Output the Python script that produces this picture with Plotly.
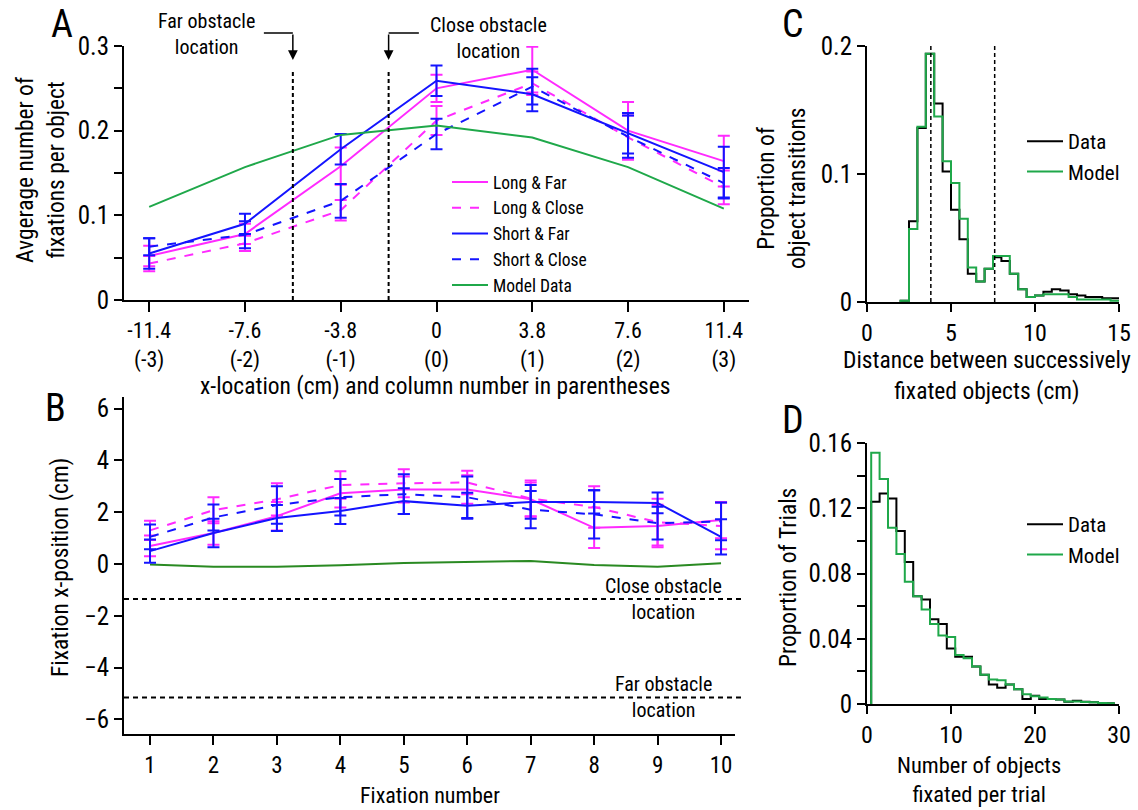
import plotly.graph_objects as go

W, H = 1138, 810
FONT = "Liberation Sans Narrow, Arial Narrow, Roboto Condensed, Liberation Sans, Arial, sans-serif"

# ---------------- Panel A data ----------------
a_x = [-11.4, -7.6, -3.8, 0, 3.8, 7.6, 11.4]
a_ticktext = ["-11.4<br>(-3)", "-7.6<br>(-2)", "-3.8<br>(-1)", "0<br>(0)", "3.8<br>(1)", "7.6<br>(2)", "11.4<br>(3)"]
a_long_far = [0.052, 0.078, 0.158, 0.250, 0.272, 0.200, 0.164]
a_long_far_err = [0.012, 0.012, 0.022, 0.016, 0.027, 0.034, 0.030]
a_long_close = [0.043, 0.067, 0.106, 0.212, 0.256, 0.192, 0.133]
a_long_close_err = [0.009, 0.009, 0.012, 0.017, 0.014, 0.026, 0.020]
a_short_far = [0.055, 0.090, 0.178, 0.259, 0.243, 0.197, 0.151]
a_short_far_err = [0.018, 0.012, 0.018, 0.018, 0.020, 0.024, 0.030]
a_short_close = [0.063, 0.077, 0.117, 0.196, 0.252, 0.193, 0.138]
a_short_close_err = [0.010, 0.016, 0.020, 0.018, 0.021, 0.025, 0.018]
a_model = [0.110, 0.157, 0.195, 0.206, 0.192, 0.157, 0.108]
a_far_obstacle = -5.7
a_close_obstacle = -1.9

# ---------------- Panel B data ----------------
b_x = [1, 2, 3, 4, 5, 6, 7, 8, 9, 10]
b_long_far = [0.70, 1.20, 1.85, 2.73, 2.88, 2.88, 2.50, 1.40, 1.47, 1.70]
b_long_far_err = [0.40, 0.45, 0.55, 0.55, 0.50, 0.55, 0.65, 0.78, 0.82, 0.70]
b_long_close = [1.30, 2.08, 2.50, 3.05, 3.12, 3.15, 2.53, 2.20, 1.62, 1.47]
b_long_close_err = [0.37, 0.50, 0.62, 0.53, 0.54, 0.45, 0.70, 0.80, 0.90, 0.90]
b_short_far = [0.50, 1.20, 1.78, 2.05, 2.43, 2.25, 2.40, 2.40, 2.36, 1.05]
b_short_far_err = [0.45, 0.55, 0.50, 0.50, 0.50, 0.50, 0.65, 0.45, 0.40, 0.68]
b_short_close = [1.05, 1.80, 2.28, 2.58, 2.70, 2.58, 2.10, 1.92, 1.58, 1.65]
b_short_close_err = [0.48, 0.50, 0.72, 0.70, 0.77, 0.80, 0.72, 0.93, 0.63, 0.73]
b_model = [-0.02, -0.10, -0.10, -0.05, 0.04, 0.09, 0.12, -0.04, -0.10, 0.03]
b_close_obstacle = -1.35
b_far_obstacle = -5.15

# ---------------- Panel C data (bin width 0.5 cm, starting at 2 cm) ----------------
c_bin_start = 2.0
c_bin_width = 0.5
c_data = [0.001, 0.063, 0.136, 0.194, 0.155, 0.102, 0.072, 0.049, 0.022, 0.016, 0.026, 0.035, 0.032,
          0.022, 0.010, 0.004, 0.005, 0.008, 0.010, 0.009, 0.006, 0.005, 0.004, 0.004, 0.003, 0.003]
c_model = [0.001, 0.057, 0.137, 0.194, 0.145, 0.110, 0.093, 0.065, 0.027, 0.016, 0.026, 0.036, 0.036,
           0.022, 0.010, 0.004, 0.005, 0.006, 0.006, 0.006, 0.004, 0.002, 0.002, 0.002, 0.002, 0.001]
c_marks = [3.8, 7.6]

# ---------------- Panel D data (bins centred on 1..29) ----------------
d_bin_start = 0.5
d_bin_width = 1.0
d_data = [0.124, 0.129, 0.126, 0.106, 0.087, 0.066, 0.064, 0.052, 0.049, 0.034, 0.029, 0.029, 0.023, 0.018,
          0.012, 0.010, 0.012, 0.009, 0.003, 0.005, 0.003, 0.003, 0.0027, 0.0014, 0.002, 0.0014, 0.001, 0.0006, 0.0004]
d_model = [0.154, 0.138, 0.108, 0.092, 0.075, 0.066, 0.058, 0.049, 0.042, 0.041, 0.030, 0.028, 0.023, 0.018,
           0.015, 0.0145, 0.012, 0.009, 0.006, 0.0047, 0.004, 0.003, 0.0027, 0.0016, 0.0016, 0.0012, 0.001, 0.0006, 0.0004]

MAG = "#ff2aff"
BLU = "#1414ff"
GRN = "#1fa84a"
GRN_B = "#2a8a22"

TICK_SIZE = 25
TITLE_SIZE = 23.5


def px(x):
    return x / W


def py(y):
    return 1 - y / H


fig = go.Figure()


def series(x, y, err, color, dash, name, xa, ya, legend=None, showlegend=True):
    fig.add_trace(go.Scatter(
        x=x, y=y, mode="lines", name=name,
        line=dict(color=color, width=2, dash=dash),
        error_y=(dict(type="data", array=err, color=color, thickness=2, width=6, visible=True)
                 if err is not None else None),
        xaxis=xa, yaxis=ya, legend=legend if legend else "legend", showlegend=showlegend))


# Panel A
series(a_x, a_long_far, a_long_far_err, MAG, "solid", "Long & Far", "x", "y")
series(a_x, a_long_close, a_long_close_err, MAG, "dash", "Long & Close", "x", "y")
series(a_x, a_short_far, a_short_far_err, BLU, "solid", "Short & Far", "x", "y")
series(a_x, a_short_close, a_short_close_err, BLU, "dash", "Short & Close", "x", "y")
series(a_x, a_model, None, GRN, "solid", "Model Data", "x", "y")

# Panel B
series(b_x, b_model, None, GRN_B, "solid", "Model", "x2", "y2", showlegend=False)
series(b_x, b_long_far, b_long_far_err, MAG, "solid", "Long & Far", "x2", "y2", showlegend=False)
series(b_x, b_long_close, b_long_close_err, MAG, "dash", "Long & Close", "x2", "y2", showlegend=False)
series(b_x, b_short_far, b_short_far_err, BLU, "solid", "Short & Far", "x2", "y2", showlegend=False)
series(b_x, b_short_close, b_short_close_err, BLU, "dash", "Short & Close", "x2", "y2", showlegend=False)


def step(start, width, vals):
    edges = [start + i * width for i in range(len(vals) + 1)]
    xs = [edges[0]] + edges
    ys = [0] + list(vals) + [vals[-1]]
    return xs, ys


for vals, color, name, xa, ya, lg in [
    (c_data, "black", "Data", "x3", "y3", "legend2"),
    (c_model, GRN, "Model", "x3", "y3", "legend2"),
    (d_data, "black", "Data", "x4", "y4", "legend3"),
    (d_model, GRN, "Model", "x4", "y4", "legend3"),
]:
    start, width = (c_bin_start, c_bin_width) if xa == "x3" else (d_bin_start, d_bin_width)
    xs, ys = step(start, width, vals)
    fig.add_trace(go.Scatter(x=xs, y=ys, mode="lines", line=dict(color=color, width=2, shape="hv"),
                             name=name, xaxis=xa, yaxis=ya, legend=lg))

axis_style = dict(showline=True, linecolor="black", linewidth=2, ticks="outside", ticklen=8,
                  tickwidth=2, tickcolor="black", showgrid=False, zeroline=False, automargin=False,
                  tickfont=dict(size=TICK_SIZE, color="black", family=FONT))

shapes = []
# Panel A obstacle lines
for xv in [a_far_obstacle, a_close_obstacle]:
    shapes.append(dict(type="line", xref="x", yref="y", x0=xv, x1=xv, y0=0, y1=0.272,
                       line=dict(color="black", width=2, dash="4px,3px")))
# elbows of arrows (horizontal parts)
shapes.append(dict(type="line", xref="x", yref="paper", x0=a_far_obstacle - 1.15, x1=a_far_obstacle,
                   y0=py(33), y1=py(33), line=dict(color="black", width=1.5)))
shapes.append(dict(type="line", xref="x", yref="paper", x0=a_close_obstacle, x1=a_close_obstacle + 1.2,
                   y0=py(33), y1=py(33), line=dict(color="black", width=1.5)))
# Panel B obstacle lines
for yv in [b_close_obstacle, b_far_obstacle]:
    shapes.append(dict(type="line", xref="x2 domain", yref="y2", x0=0, x1=1.01, y0=yv, y1=yv,
                       line=dict(color="black", width=2, dash="5px,4px")))
# Panel C marks
for xv in c_marks:
    shapes.append(dict(type="line", xref="x3", yref="y3", x0=xv, x1=xv, y0=0, y1=0.2,
                       line=dict(color="black", width=1.5, dash="4px,3px")))


def txt(x, y, text, size=TITLE_SIZE, angle=0, yanchor="middle"):
    return dict(xref="paper", yref="paper", x=px(x), y=py(y), text=text, showarrow=False,
                textangle=angle, xanchor="center", yanchor=yanchor,
                font=dict(size=size, color="black", family=FONT))


annotations = [
    txt(62, 0, "A", 38, yanchor="top"), txt(55, 408, "B", 38),
    txt(793, 0, "C", 38, yanchor="top"), txt(793, 420, "D", 38),
    txt(40, 170, "Avgerage number of<br>fixations per object", TITLE_SIZE, -90),
    txt(435, 386, "x-location (cm) and column number in parentheses"),
    txt(60, 568, "Fixation x-position (cm)", TITLE_SIZE, -90),
    txt(430, 795, "Fixation number", 22),
    txt(782, 188, "Proportion of<br>object transitions", TITLE_SIZE, -90),
    txt(987, 376, "Distance between successively<br>fixated objects (cm)"),
    txt(788, 578, "Proportion of Trials", TITLE_SIZE, -90),
    txt(979, 779, "Number of objects<br>fixated per trial", 22.5),
    txt(206, 34, "Far obstacle<br>location", 20),
    txt(488, 38, "Close obstacle<br>location", 20),
    txt(663, 599, "Close obstacle<br>location", 20),
    txt(663, 697, "Far obstacle<br>location", 20),
]
for xv in [a_far_obstacle, a_close_obstacle]:
    annotations.append(dict(xref="x", yref="paper", x=xv, y=py(60), ax=0, ay=-27, text="",
                            showarrow=True, arrowhead=2, arrowsize=1.3, arrowwidth=1.5,
                            arrowcolor="black"))

legend_common = dict(bgcolor="rgba(0,0,0,0)", borderwidth=0, xanchor="left", yanchor="top",
                     itemwidth=36)

fig.update_layout(
    width=W, height=H, autosize=False,
    margin=dict(l=0, r=0, t=0, b=0, pad=0, autoexpand=False),
    paper_bgcolor="white", plot_bgcolor="white",
    font=dict(family=FONT, color="black"),
    xaxis=dict(axis_style, domain=[px(124), px(749)], range=[-12.4, 12.4], anchor="y",
               tickvals=a_x, ticktext=a_ticktext, ticklen=10,
               tickfont=dict(size=22, color="black", family=FONT)),
    yaxis=dict(axis_style, domain=[py(300), py(46)], range=[0, 0.3], anchor="x",
               tickvals=[0, 0.05, 0.1, 0.15, 0.2, 0.25, 0.3],
               ticktext=["0", "", "0.1", "", "0.2", "", "0.3"]),
    xaxis2=dict(axis_style, domain=[px(124), px(735)], range=[0.59, 10.22], anchor="y2",
                tickvals=b_x, ticklen=9, tickfont=dict(size=23, color="black", family=FONT)),
    yaxis2=dict(axis_style, domain=[py(734), py(397)], range=[-6.56, 6.45], anchor="x2",
                tickvals=[-6, -4, -2, 0, 2, 4, 6]),
    xaxis3=dict(axis_style, domain=[px(867), px(1119)], range=[0, 15], anchor="y3",
                tickvals=[0, 5, 10, 15], tickfont=dict(size=24, color="black", family=FONT)),
    yaxis3=dict(axis_style, domain=[py(302), py(46)], range=[0, 0.2], anchor="x3",
                tickvals=[0, 0.1, 0.2], ticktext=["0", "0.1", "0.2"]),
    xaxis4=dict(axis_style, domain=[px(867), px(1119)], range=[0, 30], anchor="y4",
                tickvals=[0, 10, 20, 30], tickfont=dict(size=24, color="black", family=FONT)),
    yaxis4=dict(axis_style, domain=[py(704), py(443)], range=[0, 0.16], anchor="x4",
                tickvals=[0, 0.02, 0.04, 0.06, 0.08, 0.1, 0.12, 0.14, 0.16],
                ticktext=["0", "", "0.04", "", "0.08", "", "0.12", "", "0.16"]),
    legend=dict(legend_common, x=px(447), y=py(164), font=dict(size=17.5, family=FONT, color="black")),
    legend2=dict(legend_common, x=px(1022), y=py(121), font=dict(size=21, family=FONT, color="black")),
    legend3=dict(legend_common, x=px(1022), y=py(504), font=dict(size=21, family=FONT, color="black")),
    shapes=shapes,
    annotations=annotations,
)

fig.write_html("out.html", config={"displayModeBar": False},
               post_script="document.body.style.margin='0';")
